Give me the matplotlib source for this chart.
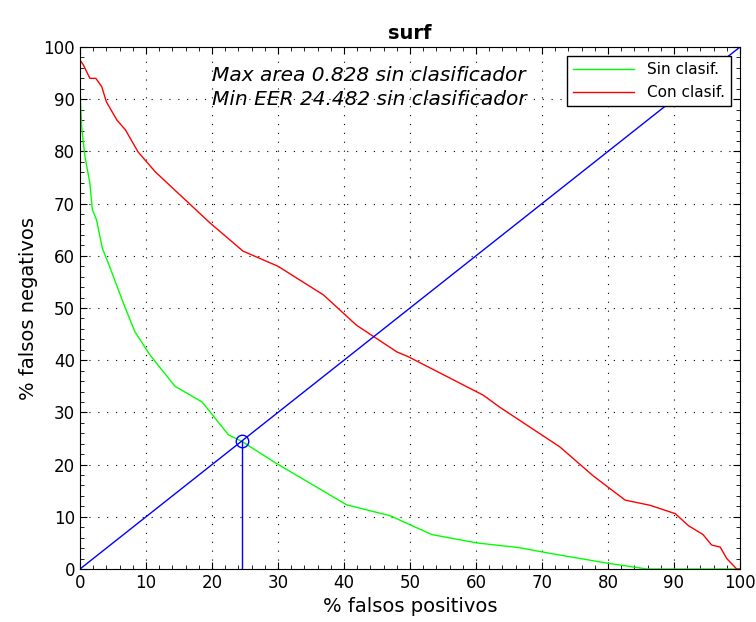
import matplotlib
matplotlib.use('Agg')
import matplotlib.pyplot as plt
from matplotlib.ticker import MultipleLocator

# curva sin clasificador (FP %, FN %)
sin_fp = [0, 0, 0.25, 0.76, 1.5, 1.87, 2.5, 3.4, 4.5, 6.8, 8.3, 10.6, 14.4, 18.5,
          22.5, 24.48, 29.8, 40.4, 47.0, 53.3, 60.1, 66.5, 71.2, 80.0, 85.9, 100]
sin_fn = [97.8, 91.8, 84.7, 79.0, 73.9, 68.9, 66.9, 61.4, 57.9, 50.2, 45.5, 41.0, 35.0, 32.0,
          25.7, 24.48, 20.2, 12.3, 10.2, 6.6, 5.0, 4.1, 3.0, 1.1, 0.0, 0.0]

# curva con clasificador
con_fp = [0, 0, 0.5, 1.5, 2.4, 3.3, 4.0, 5.6, 6.9, 8.8, 11.4, 19.7, 24.7, 30.0, 36.9,
          41.9, 48.0, 49.7, 61.1, 63.6, 72.7, 77.8, 82.6, 86.4, 90.2, 92.2, 94.4,
          95.7, 97.0, 98.0, 99.5, 100]
con_fn = [100, 97.5, 96.6, 94.0, 94.0, 92.4, 89.5, 86.0, 84.1, 79.9, 76.1, 66.3, 60.9, 58.0, 52.5,
          46.7, 41.6, 40.7, 33.3, 31.0, 23.4, 17.8, 13.2, 12.2, 10.6, 8.3, 6.6,
          4.6, 4.2, 2.0, 0.0, 0]

eer = 24.482
max_area = 0.828

plt.figure(figsize=(7.56, 6.22), dpi=100)
ax = plt.axes([0.1058, 0.0852, 0.8730, 0.8392])

ax.plot(sin_fp, sin_fn, color='#00ff00', lw=1, label='Sin clasif.')
ax.plot(con_fp, con_fn, color='#ff0000', lw=1, label='Con clasif.')
ax.plot([0, 100], [0, 100], color='#0000ff', lw=1)
ax.plot([eer, eer], [0, eer], color='#0000ff', lw=1)
ax.plot([eer], [eer], 'o', mfc='none', mec='#0000ff', ms=9, mew=1)

ax.text(20.0, 93.4, 'Max area %.3f sin clasificador' % max_area, fontsize=14.5, style='italic')
ax.text(20.0, 88.8, 'Min EER %.3f sin clasificador' % eer, fontsize=14.5, style='italic')

ax.set_xlim(0, 100)
ax.set_ylim(0, 100)
ax.xaxis.set_major_locator(MultipleLocator(10))
ax.yaxis.set_major_locator(MultipleLocator(10))
ax.xaxis.set_minor_locator(MultipleLocator(2))
ax.yaxis.set_minor_locator(MultipleLocator(2))
ax.tick_params(which='both', direction='in', top=True, right=True, labelsize=12)
ax.tick_params(which='major', length=5)
ax.tick_params(which='minor', length=3)
ax.grid(True, which='major', color='black', linestyle=(0, (1, 7)), lw=0.8)

ax.set_title('surf', fontsize=14, fontweight='bold')
ax.set_xlabel('% falsos positivos', fontsize=14)
ax.set_ylabel('% falsos negativos', fontsize=14)

leg = ax.legend(loc='upper right', fontsize=11, fancybox=False, framealpha=1,
                edgecolor='black', borderaxespad=0.6, handlelength=4.0)
leg.get_frame().set_linewidth(1)

plt.savefig('out.png', dpi=100)
